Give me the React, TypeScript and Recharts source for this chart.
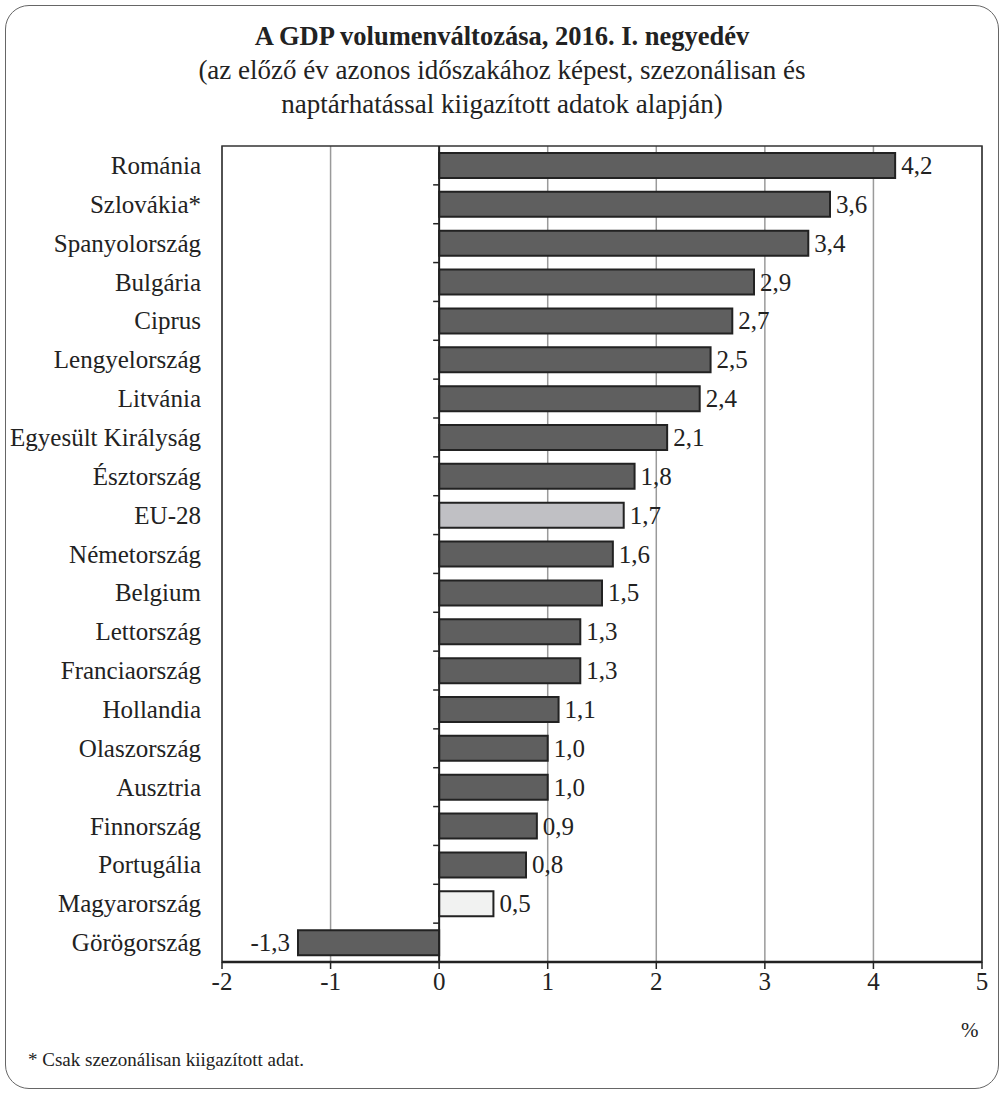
import { BarChart, Bar, XAxis, YAxis, CartesianGrid, ReferenceLine, ReferenceArea, Cell, LabelList } from 'recharts';

const countries = [
  'Románia', 'Szlovákia*', 'Spanyolország', 'Bulgária', 'Ciprus', 'Lengyelország', 'Litvánia',
  'Egyesült Királyság', 'Észtország', 'EU-28', 'Németország', 'Belgium', 'Lettország',
  'Franciaország', 'Hollandia', 'Olaszország', 'Ausztria', 'Finnország', 'Portugália',
  'Magyarország', 'Görögország',
];
const growth = [4.2, 3.6, 3.4, 2.9, 2.7, 2.5, 2.4, 2.1, 1.8, 1.7, 1.6, 1.5, 1.3, 1.3, 1.1, 1.0, 1.0, 0.9, 0.8, 0.5, -1.3];
const xTicks = [-2, -1, 0, 1, 2, 3, 4, 5];

const data = countries.map((name, i) => ({ name, value: growth[i] }));

// layout
const W = 1004;
const H = 1094;
const PLOT_LEFT = 222;
const PLOT_RIGHT = 982;
const PLOT_TOP = 146;
const PLOT_BOTTOM = 962;
const X_AXIS_H = 40;
const FONT = '"Liberation Serif", "Times New Roman", serif';

const zeroX = PLOT_LEFT + ((0 - xTicks[0]) / (xTicks[xTicks.length - 1] - xTicks[0])) * (PLOT_RIGHT - PLOT_LEFT);
const band = (PLOT_BOTTOM - PLOT_TOP) / countries.length;

const barFill = (name: string) => {
  if (name === 'EU-28') return '#c0c0c4';
  if (name === 'Magyarország') return '#f1f2f1';
  return '#5f5f5f';
};

const fmt = (v: number) => v.toFixed(1).replace('.', ',');

const CategoryTick = (props: any) => {
  const { y, payload, index } = props;
  return (
    <g>
      <text x={PLOT_LEFT - 21} y={y} textAnchor="end" dominantBaseline="central" fontSize={25} fill="#222" fontFamily={FONT}>
        {payload.value}
      </text>
      {index < countries.length - 1 && (
        <line x1={zeroX - 6} x2={zeroX} y1={y + band / 2} y2={y + band / 2} stroke="#222" strokeWidth={1.5} />
      )}
    </g>
  );
};

const ValueLabel = (props: any) => {
  const { x, y, width, height, value } = props;
  const left = Math.min(x, x + width);
  const right = Math.max(x, x + width);
  const neg = value < 0;
  return (
    <text
      x={neg ? left - 8 : right + 6}
      y={y + height / 2}
      textAnchor={neg ? 'end' : 'start'}
      dominantBaseline="central"
      fontSize={25}
      fill="#222"
      fontFamily={FONT}
    >
      {fmt(value)}
    </text>
  );
};

export default function App() {
  return (
    <div style={{ position: 'absolute', left: 0, top: 0, width: W, height: H, background: '#fff', fontFamily: FONT, color: '#222' }}>
      <div style={{ position: 'absolute', left: 5, top: 5, width: W - 12, height: H - 12, border: '1.5px solid #666', borderRadius: 24 }} />
      <div style={{ position: 'absolute', left: 0, top: 19, width: W, textAlign: 'center', fontSize: 27, lineHeight: '34px' }}>
        <div style={{ fontWeight: 'bold', fontSize: 26.5 }}>A GDP volumenváltozása, 2016. I. negyedév</div>
        <div>(az előző év azonos időszakához képest, szezonálisan és</div>
        <div>naptárhatással kiigazított adatok alapján)</div>
      </div>
      <div style={{ position: 'absolute', left: 0, top: 0 }}>
        <BarChart
          width={W}
          height={H}
          data={data}
          layout="vertical"
          margin={{ top: PLOT_TOP, right: W - PLOT_RIGHT, bottom: H - PLOT_BOTTOM - X_AXIS_H, left: 0 }}
          barSize={25}
        >
          <CartesianGrid horizontal={false} stroke="#9a9a9a" strokeWidth={1.5} />
          <XAxis
            type="number"
            domain={[xTicks[0], xTicks[xTicks.length - 1]]}
            ticks={xTicks}
            height={X_AXIS_H}
            axisLine={{ stroke: '#222', strokeWidth: 2.5 }}
            tickLine={{ stroke: '#222', strokeWidth: 1.5 }}
            tickSize={7}
            tickMargin={3}
            tick={{ fontSize: 25, fill: '#222', fontFamily: FONT }}
          />
          <YAxis
            type="category"
            dataKey="name"
            width={PLOT_LEFT}
            axisLine={false}
            tickLine={false}
            interval={0}
            tick={<CategoryTick />}
          />
          <ReferenceArea x1={xTicks[0]} x2={xTicks[xTicks.length - 1]} fill="none" stroke="#333" strokeWidth={1.5} />
          <ReferenceLine x={0} stroke="#222" strokeWidth={2} />
          <Bar dataKey="value" stroke="#222" strokeWidth={2} isAnimationActive={false}>
            {data.map((d) => (
              <Cell key={d.name} fill={barFill(d.name)} />
            ))}
            <LabelList dataKey="value" content={<ValueLabel />} />
          </Bar>
        </BarChart>
      </div>
      <div style={{ position: 'absolute', left: 961, top: 1018, fontSize: 21 }}>%</div>
      <div style={{ position: 'absolute', left: 28, top: 1049, fontSize: 19 }}>* Csak szezonálisan kiigazított adat.</div>
    </div>
  );
}
